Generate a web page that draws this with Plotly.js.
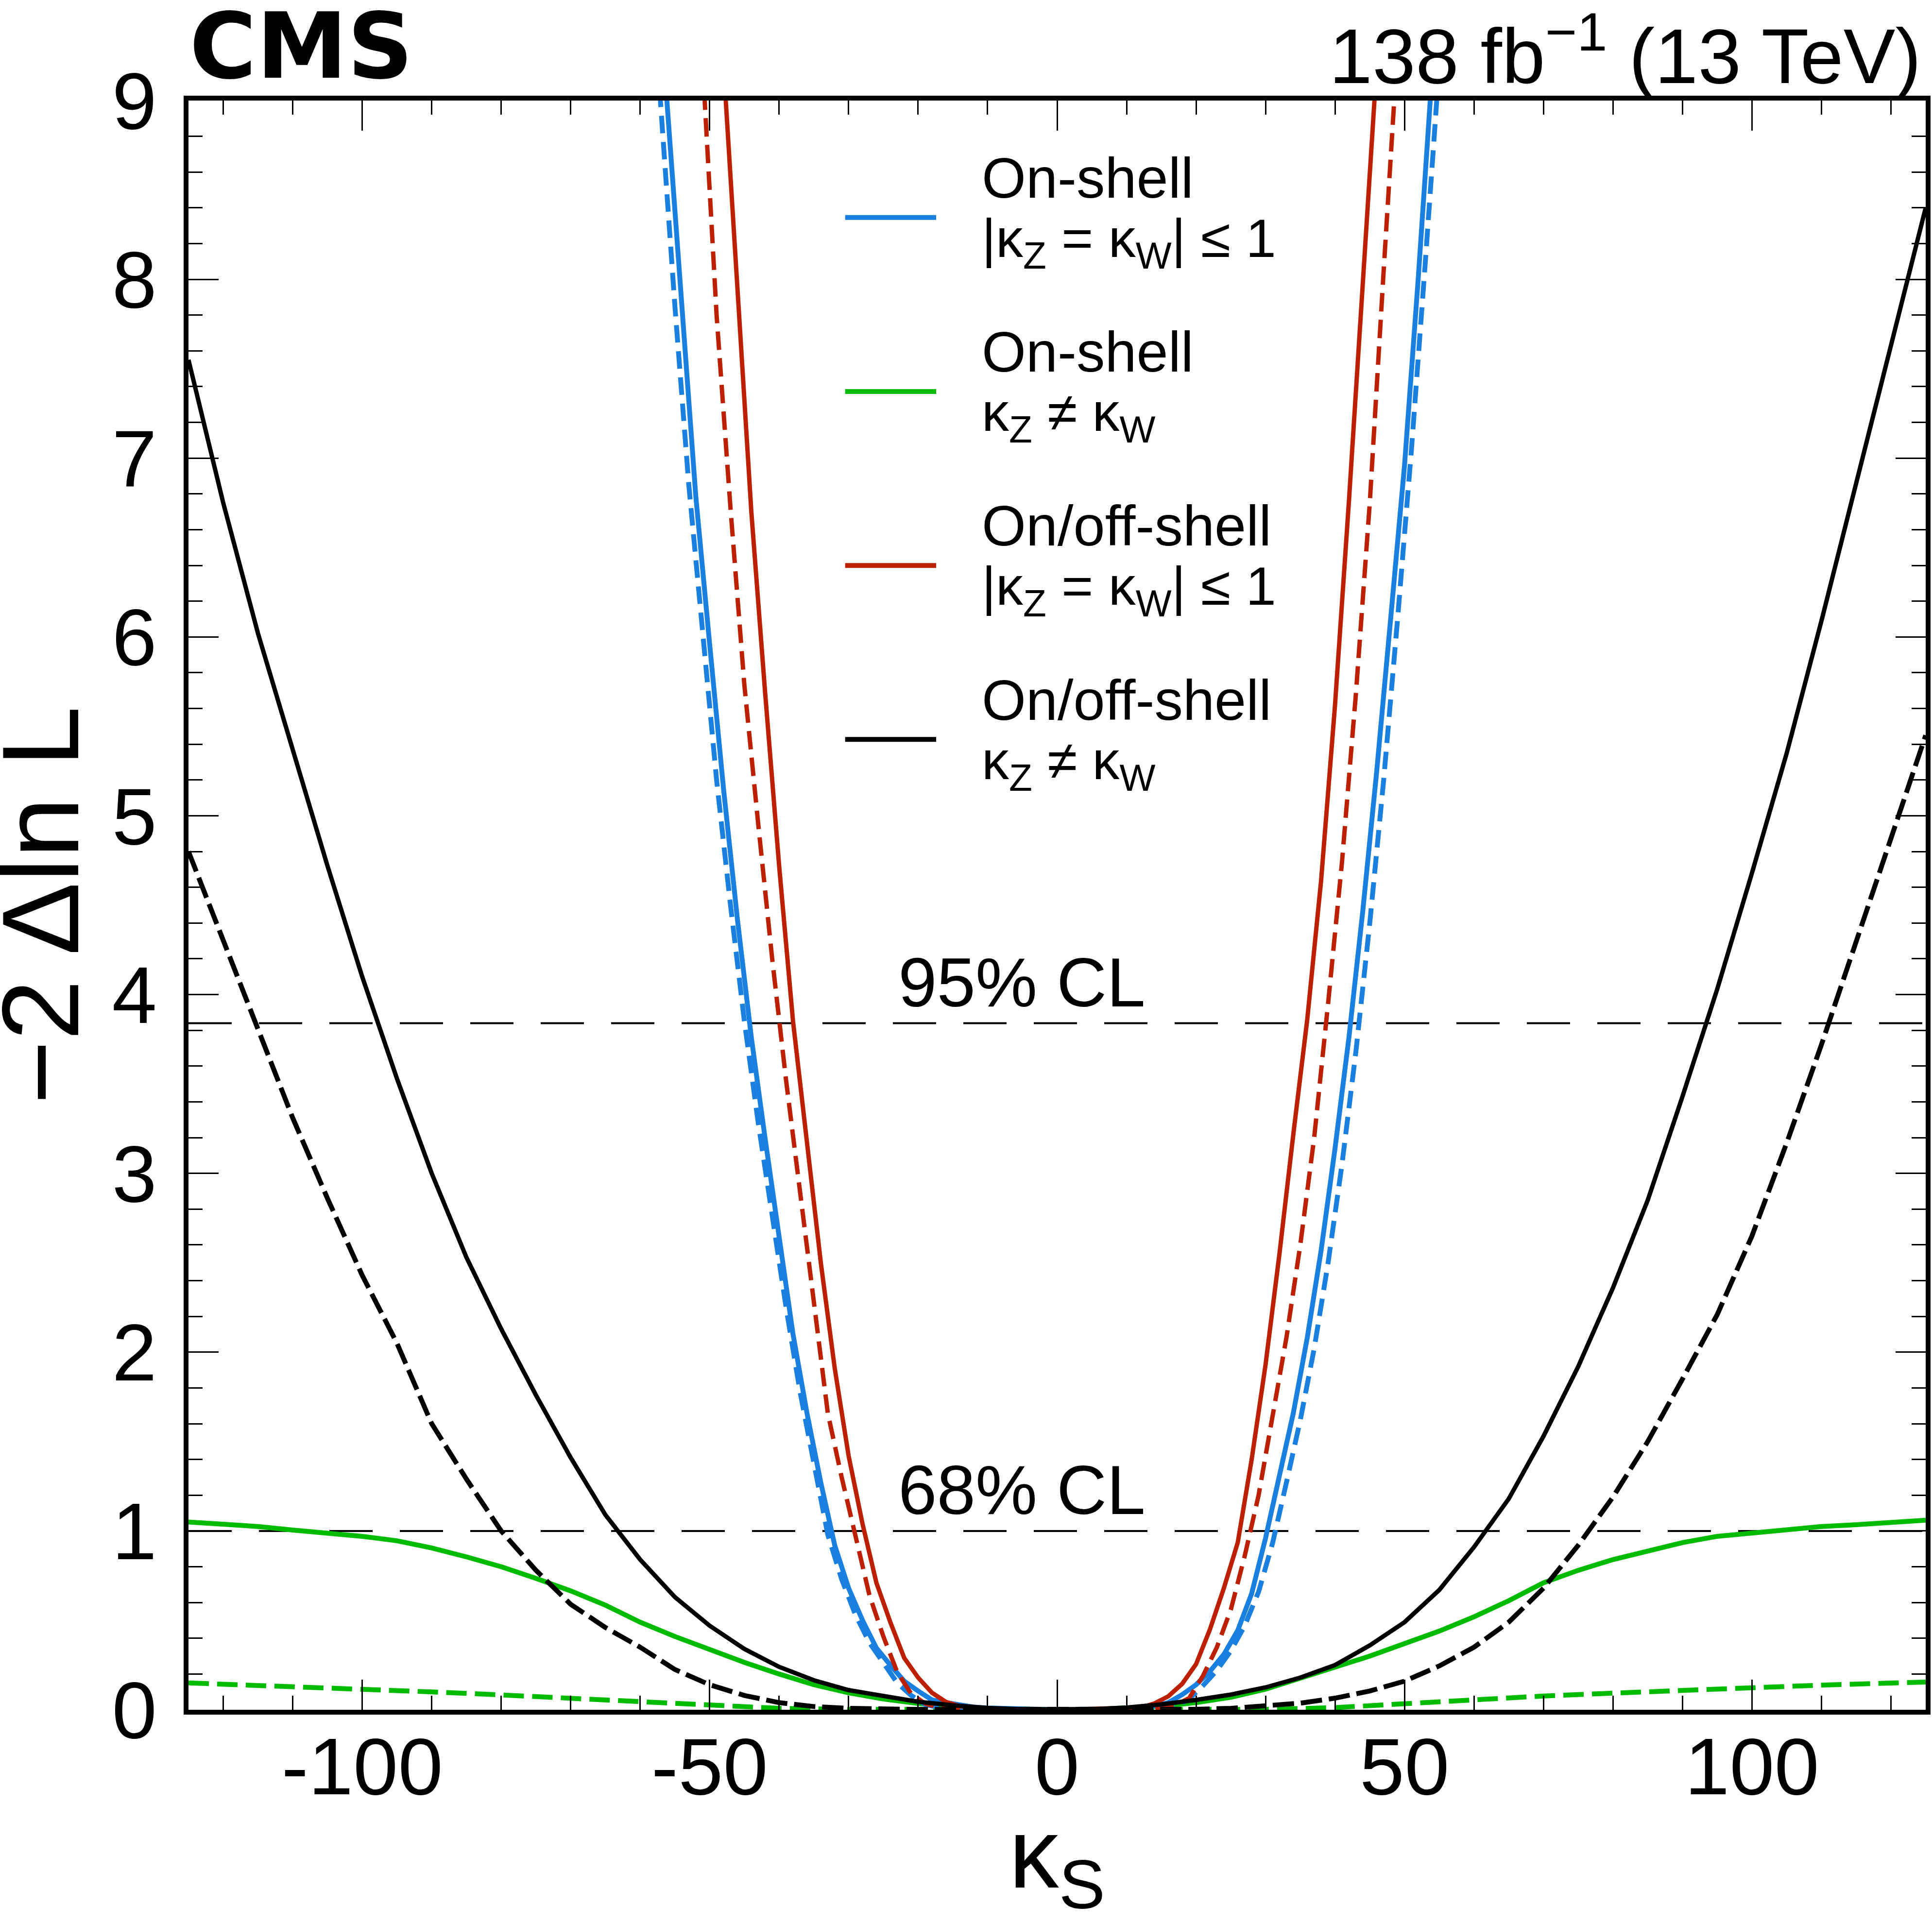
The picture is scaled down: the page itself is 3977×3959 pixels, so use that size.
<html>
<head>
<script src="https://cdn.plot.ly/plotly-3.0.1.min.js"></script>
<style>body{margin:0;background:#fff;}</style>
</head>
<body>
<div id="chart"></div>
<script>
// -2 Delta lnL scans versus kappa_S

// on-shell, |kZ = kW| <= 1 (blue)
let blueObsX = [-57,-56,-54,-52,-50,-48,-46,-44,-42,-40,-38,-36,-34,-32,-30,-28,-26,-24,-22,-20,-18,-16,-14,-12,-10,-5,0,5,10,12,14,16,18,20,22,24,26,28,30,32,34,36,38,40,42,44,46,48,50,52,54,55];
let blueObsY = [9.45,8.9,7.8,6.79,5.96,5.15,4.42,3.76,3.19,2.64,2.10,1.66,1.27,0.92,0.68,0.50,0.345,0.25,0.16,0.105,0.055,0.04,0.025,0.015,0.01,0.003,0,0.002,0.008,0.012,0.02,0.04,0.085,0.14,0.215,0.31,0.444,0.65,0.96,1.30,1.66,2.08,2.57,3.14,3.76,4.47,5.25,6.10,6.96,8.02,9.1,9.75];
let blueExpX = [-58,-57,-55,-53,-51,-49,-47,-45,-43,-41,-39,-37,-35,-33,-31,-29,-27,-25,-23,-21,-19,-17,-15,-10,0,10,15,17,19,21,23,25,27,29,31,33,35,37,39,41,43,45,47,49,51,53,55];
let blueExpY = [9.5,8.95,7.85,6.85,6.0,5.2,4.5,3.85,3.28,2.75,2.25,1.78,1.37,0.98,0.73,0.53,0.375,0.26,0.15,0.08,0.03,0.012,0.005,0.001,0,0.001,0.005,0.02,0.06,0.135,0.22,0.33,0.47,0.66,0.93,1.27,1.62,2.02,2.5,3.05,3.68,4.4,5.2,6.1,7.05,8.1,9.2];

// on-shell, kZ != kW (green)
let greenObsX = [-125,-120,-115,-110,-105,-100,-95,-90,-85,-80,-75,-70,-65,-60,-55,-50,-45,-40,-35,-30,-25,-20,-15,-10,-5,0,5,10,15,20,25,30,35,40,45,50,55,60,65,70,75,80,85,90,95,100,105,110,115,120,125];
let greenObsY = [1.05,1.04,1.025,1.005,0.99,0.97,0.945,0.905,0.855,0.8,0.735,0.665,0.585,0.49,0.41,0.335,0.265,0.2,0.14,0.095,0.06,0.035,0.018,0.008,0.002,0,0.002,0.008,0.02,0.04,0.07,0.115,0.175,0.235,0.3,0.37,0.44,0.52,0.61,0.71,0.78,0.84,0.89,0.935,0.97,0.99,1.01,1.025,1.035,1.045,1.06];
let greenExpX = [-125,-110,-100,-90,-80,-70,-60,-50,-40,-30,0,30,40,50,60,70,80,90,100,110,125];
let greenExpY = [0.15,0.13,0.118,0.1,0.083,0.064,0.044,0.022,0.008,0.002,0,0.002,0.012,0.035,0.057,0.077,0.093,0.11,0.126,0.138,0.155];

// on/off-shell, |kZ = kW| <= 1 (red)
let redObsX = [-48,-46,-44,-42,-40,-38,-36,-34,-32,-30,-28,-26,-24,-22,-20,-18,-16,-14,-12,-10,0,10,12,14,16,18,20,22,24,26,28,30,32,34,36,38,40,42,44,46];
let redObsY = [9.2,7.95,6.7,5.68,4.72,3.85,3.15,2.5,1.91,1.42,1.04,0.71,0.49,0.29,0.18,0.095,0.044,0.02,0.01,0.005,0,0.005,0.012,0.035,0.075,0.145,0.255,0.45,0.68,0.935,1.40,1.93,2.55,3.22,3.86,4.64,5.62,6.76,8.03,9.2];
let redExpX = [-51,-49,-47,-45,-43,-41,-39,-37,-35,-33,-31,-29,-27,-25,-23,-21,-19,-17,-15,-10,0,10,15,17,19,21,23,25,27,29,31,33,35,37,39,41,43,45,47,49];
let redExpY = [9.2,7.8,6.72,5.73,4.95,4.2,3.52,2.9,2.25,1.66,1.3,0.97,0.64,0.41,0.21,0.09,0.035,0.012,0.005,0.002,0,0.002,0.01,0.025,0.065,0.19,0.35,0.56,0.86,1.2,1.64,2.08,2.6,3.2,3.95,4.74,5.68,6.75,8.05,9.3];

// on/off-shell, kZ != kW (black)
let blackObsX = [-125,-120,-115,-110,-105,-100,-95,-90,-85,-80,-75,-70,-65,-60,-55,-50,-45,-40,-35,-30,-25,-20,-15,-10,-5,0,5,10,15,20,25,30,35,40,45,50,55,60,65,70,75,80,85,90,95,100,105,110,115,120,125];
let blackObsY = [7.55,6.75,6.02,5.36,4.72,4.1,3.53,3.0,2.53,2.13,1.76,1.41,1.09,0.84,0.63,0.47,0.34,0.24,0.165,0.11,0.075,0.045,0.025,0.01,0.003,0,0.003,0.012,0.03,0.055,0.085,0.125,0.18,0.25,0.36,0.49,0.67,0.91,1.18,1.53,1.92,2.36,2.85,3.43,4.03,4.68,5.35,6.09,6.86,7.62,8.4];
let blackExpX = [-125,-120,-115,-110,-105,-100,-95,-90,-85,-80,-75,-70,-65,-60,-55,-50,-45,-40,-35,-30,-20,0,20,25,30,35,40,45,50,55,60,65,70,75,80,85,90,95,100,105,110,115,120,125];
let blackExpY = [4.8,4.3,3.8,3.31,2.86,2.43,2.05,1.6,1.29,1.0,0.78,0.59,0.46,0.35,0.225,0.14,0.08,0.04,0.018,0.008,0.002,0,0.003,0.008,0.02,0.037,0.065,0.105,0.16,0.245,0.35,0.49,0.68,0.92,1.19,1.5,1.85,2.21,2.65,3.17,3.72,4.29,4.88,5.45];

let clLevels = [1, 3.84];
let clLabels = ['68% CL', '95% CL'];

let xTickVals = [-100, -50, 0, 50, 100];
let xTickText = ['-100', '-50', '0', '50', '100'];

let legendLine1 = ['On-shell', 'On-shell', 'On/off-shell', 'On/off-shell'];
let legendLine2 = ['|κ<sub>Z</sub> = κ<sub>W</sub>| ≤ 1', 'κ<sub>Z</sub> ≠ κ<sub>W</sub>',
                   '|κ<sub>Z</sub> = κ<sub>W</sub>| ≤ 1', 'κ<sub>Z</sub> ≠ κ<sub>W</sub>'];

let cBlue = '#1a80e0', cGreen = '#00bb00', cRed = '#bd2000', cBlack = '#000000';
let legendColors = [cBlue, cGreen, cRed, cBlack];

let FONT = 'Liberation Sans, Arial, Helvetica, sans-serif';

function curve(x, y, color, width, dash) {
  return {
    x: x, y: y, type: 'scatter', mode: 'lines',
    line: {color: color, width: width, dash: dash || 'solid'},
    showlegend: false, hoverinfo: 'skip'
  };
}

let data = [
  curve(greenExpX, greenExpY, cGreen, 10, '42px,17px'),
  curve(greenObsX, greenObsY, cGreen, 10),
  curve(blueExpX, blueExpY, cBlue, 10, '36px,18px'),
  curve(blueObsX, blueObsY, cBlue, 10),
  curve(redExpX, redExpY, cRed, 9, '38px,17px'),
  curve(redObsX, redObsY, cRed, 9),
  curve(blackExpX, blackExpY, cBlack, 10, '44px,14px'),
  curve(blackObsX, blackObsY, cBlack, 9)
];

let shapes = [];
let annotations = [];

// confidence level lines
clLevels.forEach((lv, i) => {
  shapes.push({type: 'line', xref: 'paper', x0: 0, x1: 1, yref: 'y', y0: lv, y1: lv,
               line: {color: 'black', width: 4, dash: '89px,56px'}, layer: 'below'});
  annotations.push({xref: 'x', yref: 'y', x: -23, y: lv + 0.228, xanchor: 'left', yanchor: 'middle',
                    text: clLabels[i], showarrow: false, font: {family: FONT, size: 143, color: 'black'}});
});

// hand-made legend (long line samples like the ROOT legend)
legendLine1.forEach((t, i) => {
  let ys = 0.9273 - i * 0.1081;
  shapes.push({type: 'line', xref: 'paper', yref: 'paper', x0: 0.378, x1: 0.4304, y0: ys, y1: ys,
               line: {color: legendColors[i], width: 10}});
  annotations.push({xref: 'paper', yref: 'paper', x: 0.4561, y: ys + 0.0245, xanchor: 'left', yanchor: 'middle',
                    text: t, showarrow: false, font: {family: FONT, size: 117, color: 'black'}});
  annotations.push({xref: 'paper', yref: 'paper', x: 0.4561, y: ys - 0.0155, xanchor: 'left', yanchor: 'middle',
                    text: legendLine2[i], showarrow: false, font: {family: FONT, size: 112, color: 'black'}});
});

annotations.push({xref: 'paper', yref: 'paper', x: 0.0, y: 1.034, xanchor: 'left', yanchor: 'middle',
                  text: '<b>CMS</b>', showarrow: false,
                  font: {family: 'DejaVu Sans, Liberation Sans, sans-serif', size: 188, color: 'black'}});
annotations.push({xref: 'paper', yref: 'paper', x: 0.998, y: 1.031, xanchor: 'right', yanchor: 'middle',
                  text: '138 fb<sup>−1</sup> (13 TeV)', showarrow: false, font: {family: FONT, size: 160, color: 'black'}});

// y-axis title placed as a rotated text so it sits at the far left like the original
annotations.push({xref: 'paper', yref: 'paper', x: -0.0853, y: 0.5, xanchor: 'center', yanchor: 'middle',
                  textangle: -90, text: '−2 Δln L', showarrow: false,
                  font: {family: FONT, size: 225, color: 'black'}});

let axisCommon = {
  showline: true, linewidth: 10, linecolor: 'black', mirror: 'allticks',
  ticks: 'inside', ticklen: 62, tickwidth: 3, tickcolor: 'black',
  showgrid: false, zeroline: false,
  tickfont: {family: FONT, size: 166, color: 'black'}
};

let layout = {
  width: 3977, height: 3959,
  margin: {l: 388, r: 13, t: 207, b: 439},
  paper_bgcolor: 'white', plot_bgcolor: 'white',
  showlegend: false,
  xaxis: Object.assign({}, axisCommon, {
    range: [-125, 125], tickmode: 'array', tickvals: xTickVals, ticktext: xTickText,
    minor: {tickmode: 'linear', tick0: 0, dtick: 10, ticks: 'inside', ticklen: 29, tickwidth: 3, tickcolor: 'black'},
    ticklabelstandoff: -35,
    title: {text: 'κ<sub>S</sub>', font: {family: FONT, size: 205, color: 'black'}, standoff: 115}
  }),
  yaxis: Object.assign({}, axisCommon, {
    range: [0, 9], tickmode: 'linear', tick0: 0, dtick: 1,
    minor: {tickmode: 'linear', tick0: 0, dtick: 0.2, ticks: 'inside', ticklen: 29, tickwidth: 3, tickcolor: 'black'},
    ticklabelstandoff: 22
  }),
  shapes: shapes,
  annotations: annotations
};

Plotly.newPlot('chart', data, layout, {staticPlot: true});
</script>
</body>
</html>
